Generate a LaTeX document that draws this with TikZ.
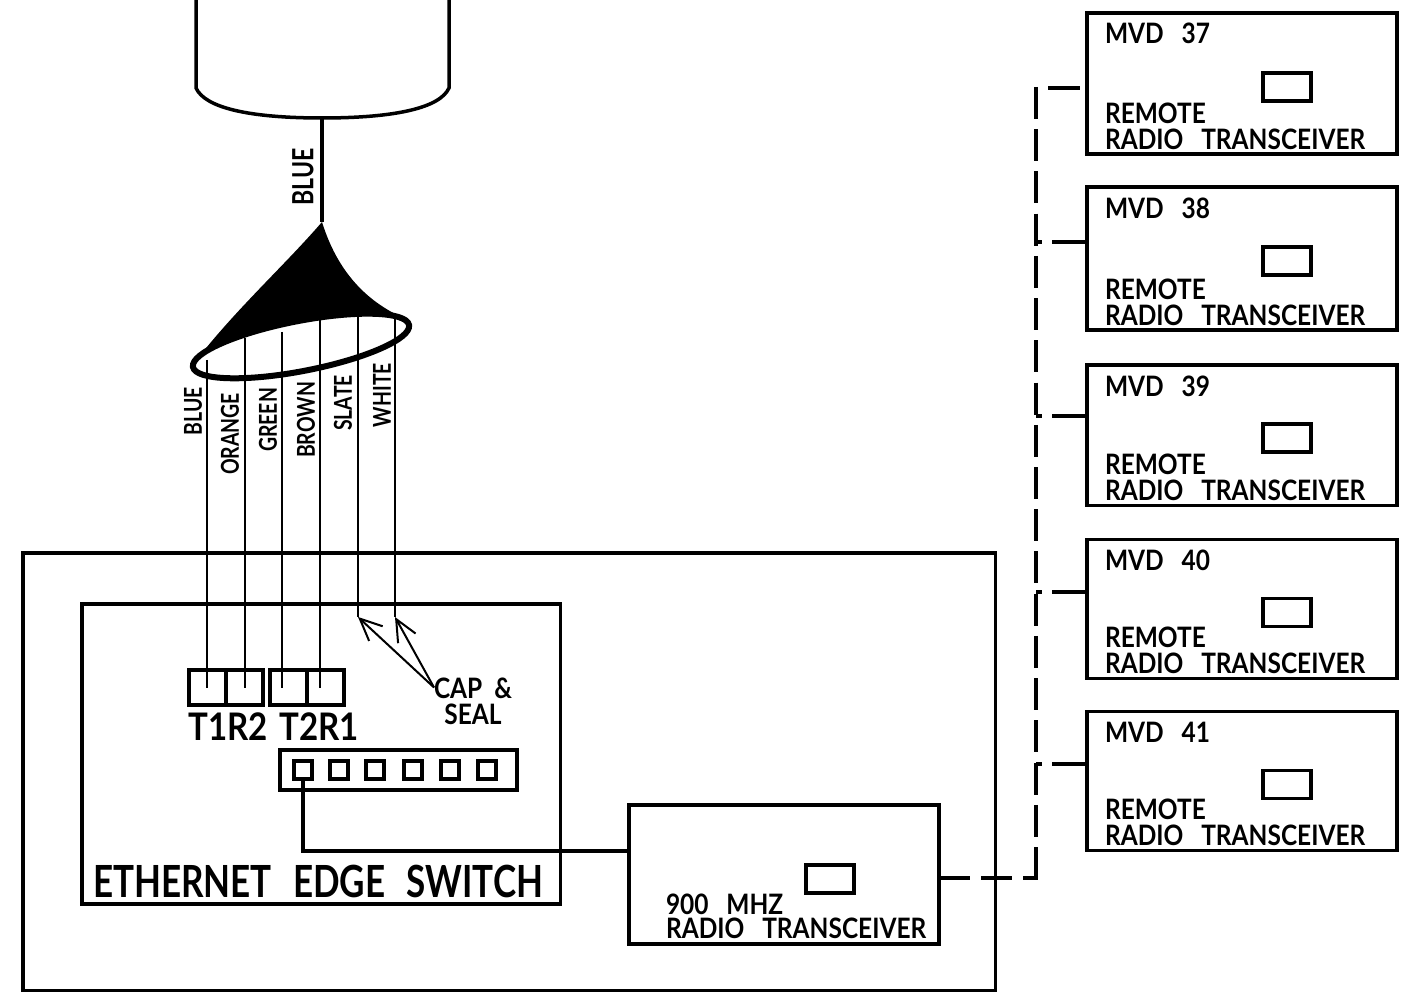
\documentclass[tikz,border=0pt]{standalone}
\usepackage{fontspec}
\setmainfont{Lato}[FakeStretch=0.87]
\newfontfamily\narrowfont{Lato}[FakeStretch=0.79]
\usetikzlibrary{shapes.geometric, arrows.meta, positioning}

\begin{document}
\begin{tikzpicture}[
    x=0.01cm, y=-0.01cm,
    node distance=0.33cm and 0.18cm,
    box/.style={draw, line width=0.035cm, inner sep=0pt, outer sep=0pt},
    mvd/.style={box, minimum width=3.1cm, minimum height=1.41cm},
    xcvr/.style={box, minimum width=0.48cm, minimum height=0.28cm},
    port/.style={box, minimum width=0.37cm, minimum height=0.35cm},
    jack/.style={box, line width=0.04cm, minimum width=0.18cm, minimum height=0.18cm},
    lbl/.style={inner sep=0pt, outer sep=0pt, text height=0.21cm, text depth=0pt, font=\fontsize{8}{8}\selectfont\bfseries},
    wirelbl/.style={inner sep=0pt, outer sep=0pt, font=\narrowfont\fontsize{7}{7}\selectfont\bfseries, rotate=90},
    wire/.style={line width=0.018cm},
    feed/.style={line width=0.045cm},
    arr/.style={{Straight Barb[length=0.22cm, width=0.2cm]}-, line width=0.02cm},
    rlink/.style={line width=0.045cm, dash pattern=on 0.32cm off 0.102cm},
    tap/.style={line width=0.045cm, dash pattern=on 0.35cm off 0.1cm on 0.08cm off 1cm},
]
\useasboundingbox (0,0) rectangle (1406,992);

% Fiber bundle
\coordinate (tubeend) at (322,118);
\coordinate (conetip) at (322,222);
\draw[line width=0.035cm] (196,-5) -- (196,88) .. controls (205,108) and (250,118) .. (tubeend) .. controls (395,118) and (440,108) .. (449,88) -- (449,-5);
\draw[feed] (tubeend) -- (conetip);
\node[wirelbl, font=\narrowfont\fontsize{8.3}{8}\selectfont\bfseries] (lblfeed) at (303,177) {BLUE};
\fill (conetip) .. controls (285,265) and (235,310) .. (195,362) -- (408,320) .. controls (375,306) and (340,280) .. cycle;
\node[draw, ellipse, fill=white, line width=0.06cm, rotate=11, minimum width=2.2cm, minimum height=0.5cm, inner sep=0pt] (fan) at (301,346) {};

% Wire labels
\node[wirelbl] (lblblue) at (193,411) {BLUE};
\node[wirelbl] (lblorange) at (230,434) {ORANGE};
\node[wirelbl] (lblgreen) at (268,420) {GREEN};
\node[wirelbl] (lblbrown) at (306,420) {BROWN};
\node[wirelbl] (lblslate) at (343,403) {SLATE};
\node[wirelbl] (lblwhite) at (382,395) {WHITE};

% Switch enclosure
\node[box, minimum width=9.72cm, minimum height=4.37cm, anchor=north west] (cabinet) at (23,553) {};
\node[box, minimum width=4.78cm, minimum height=3cm, anchor=north west] (switch) at (82,604) {};
\node[lbl, text height=0.33cm, font=\narrowfont\fontsize{12.6}{13}\selectfont\bfseries, anchor=south west] (lblswitch) at (93,898) {ETHERNET\ \ \hspace{1.2pt}EDGE\ \ \hspace{1.2pt}SWITCH};

% Ports
\node[port, anchor=north west] (p1) at (189,670) {};
\node[port, right=0cm of p1] (p2) {};
\node[port, right=0.07cm of p2] (p3) {};
\node[port, right=0cm of p3] (p4) {};
\node[lbl, text height=0.27cm, font=\fontsize{10.8}{11}\selectfont\bfseries, anchor=north] (lblta) at (228,713) {T1R2};
\node[lbl, text height=0.27cm, font=\fontsize{10.8}{11}\selectfont\bfseries, anchor=north] (lbltb) at (319,713) {T2R1};
\node[lbl, anchor=north] (lblcap) at (473,677) {CAP\ \ \&};
\node[lbl, below=0.05cm of lblcap] (lblseal) {SEAL};

% Jack strip
\node[box, minimum width=2.37cm, minimum height=0.4cm, anchor=north west] (strip) at (280,750) {};
\node[jack] (j1) at (303,770) {};
\node[jack, right=0.18cm of j1] (j2) {};
\node[jack, right=0.18cm of j2] (j3) {};
\node[jack, right=0.2cm of j3] (j4) {};
\node[jack, right=0.19cm of j4] (j5) {};
\node[jack, right=0.19cm of j5] (j6) {};

% Local radio
\node[box, minimum width=3.1cm, minimum height=1.39cm, anchor=north west] (radio) at (629,805) {};
\node[xcvr, below left=0.6cm and 0.85cm of radio.north east] (xradio) {};
\node[lbl, above right=0.06cm and 0.37cm of radio.south west] (lblradiob) {RADIO\ \ \ TRANSCEIVER};
\node[lbl, above=0.03cm of lblradiob.north west, anchor=south west] (lblradioa) {900\ \ \ MHZ};

% Remote 37
\node[mvd, anchor=north west] (mvd37) at (1087,13) {};
\node[xcvr, below left=0.6cm and 0.86cm of mvd37.north east] (x37) {};
\node[lbl, below right=0.09cm and 0.18cm of mvd37.north west] (lbl37) {MVD\ \ \ 37};
\node[lbl, above right=0.05cm and 0.18cm of mvd37.south west] (rad37) {RADIO\ \ \ TRANSCEIVER};
\node[lbl, above=0.05cm of rad37.north west, anchor=south west] (rem37) {REMOTE};

% Remote 38
\node[mvd, below=0.33cm of mvd37, minimum height=1.43cm] (mvd38) {};
\node[xcvr, below left=0.6cm and 0.86cm of mvd38.north east] (x38) {};
\node[lbl, below right=0.1cm and 0.18cm of mvd38.north west] (lbl38) {MVD\ \ \ 38};
\node[lbl, above right=0.05cm and 0.18cm of mvd38.south west] (rad38) {RADIO\ \ \ TRANSCEIVER};
\node[lbl, above=0.05cm of rad38.north west, anchor=south west] (rem38) {REMOTE};

% Remote 39
\node[mvd, below=0.35cm of mvd38, minimum height=1.4cm] (mvd39) {};
\node[xcvr, below left=0.59cm and 0.86cm of mvd39.north east] (x39) {};
\node[lbl, below right=0.1cm and 0.18cm of mvd39.north west] (lbl39) {MVD\ \ \ 39};
\node[lbl, above right=0.05cm and 0.18cm of mvd39.south west] (rad39) {RADIO\ \ \ TRANSCEIVER};
\node[lbl, above=0.05cm of rad39.north west, anchor=south west] (rem39) {REMOTE};

% Remote 40
\node[mvd, below=0.34cm of mvd39, minimum height=1.39cm] (mvd40) {};
\node[xcvr, below left=0.59cm and 0.86cm of mvd40.north east] (x40) {};
\node[lbl, below right=0.1cm and 0.18cm of mvd40.north west] (lbl40) {MVD\ \ \ 40};
\node[lbl, above right=0.05cm and 0.18cm of mvd40.south west] (rad40) {RADIO\ \ \ TRANSCEIVER};
\node[lbl, above=0.05cm of rad40.north west, anchor=south west] (rem40) {REMOTE};

% Remote 41
\node[mvd, below=0.33cm of mvd40, minimum height=1.39cm] (mvd41) {};
\node[xcvr, below left=0.59cm and 0.86cm of mvd41.north east] (x41) {};
\node[lbl, below right=0.1cm and 0.18cm of mvd41.north west] (lbl41) {MVD\ \ \ 41};
\node[lbl, above right=0.05cm and 0.18cm of mvd41.south west] (rad41) {RADIO\ \ \ TRANSCEIVER};
\node[lbl, above=0.05cm of rad41.north west, anchor=south west] (rem41) {REMOTE};

% Wires
\coordinate (w1) at (207,360);
\coordinate (w2) at (245,338);
\coordinate (w3) at (282,332);
\coordinate (w4) at (320,320);
\coordinate (w5) at (358,317);
\coordinate (w6) at (395,315);
\coordinate (capa) at (358,617);
\coordinate (capb) at (395,617);
\coordinate (feedbend) at (303,851);
\draw[wire] (w1) -- (w1 |- p1.center);
\draw[wire] (w2) -- (w2 |- p2.center);
\draw[wire] (w3) -- (w3 |- p3.center);
\draw[wire] (w4) -- (w4 |- p4.center);
\draw[wire] (w5) -- (capa);
\draw[wire] (w6) -- (capb);
\draw[arr] (capa) -- (lblcap.west);
\draw[arr] (capb) -- (lblcap.west);
\draw[feed] (j1.south) -- (feedbend) -- (feedbend -| radio.west);

% Radio links
\coordinate (bustop) at (1036,87);
\coordinate (busend) at (1036,878);
\coordinate (tap37) at (1048,88);
\coordinate (tap38) at (1036,242);
\coordinate (tap39) at (1036,416);
\coordinate (tap40) at (1036,592);
\coordinate (tap41) at (1036,764);
\draw[rlink] (bustop) -- (busend);
\draw[rlink, dash pattern=on 0.31cm off 0.11cm] (radio.east |- busend) -- ([xshift=0.02cm]busend);
\draw[tap, dash pattern=on 0.32cm off 1cm] (tap37) -- (tap37 -| mvd37.west);
\draw[tap] (tap38 -| mvd38.west) -- (tap38);
\draw[tap] (tap39 -| mvd39.west) -- (tap39);
\draw[tap] (tap40 -| mvd40.west) -- (tap40);
\draw[tap] (tap41 -| mvd41.west) -- (tap41);
\end{tikzpicture}
\end{document}
